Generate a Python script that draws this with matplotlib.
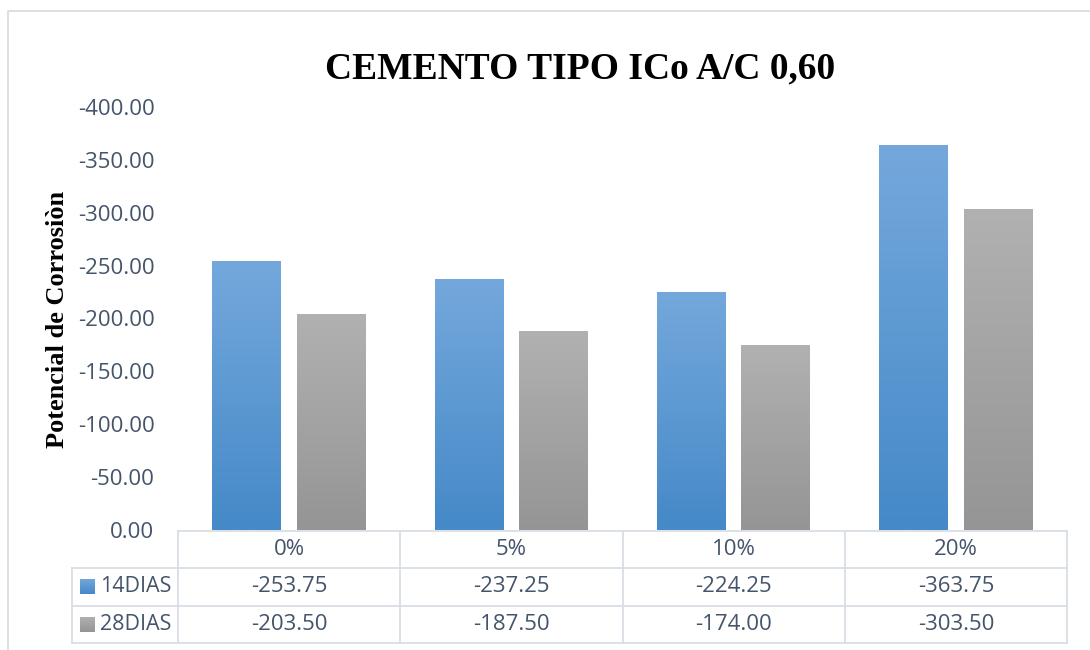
import matplotlib
matplotlib.use("Agg")
import matplotlib.pyplot as plt
import numpy as np
from matplotlib.patches import Rectangle
from matplotlib.lines import Line2D
from matplotlib.colors import LinearSegmentedColormap
from matplotlib.transforms import blended_transform_factory

categories = ["0%", "5%", "10%", "20%"]
series_names = ["14DIAS", "28DIAS"]
dias14 = [-253.75, -237.25, -224.25, -363.75]
dias28 = [-203.50, -187.50, -174.00, -303.50]
title = "CEMENTO TIPO ICo A/C 0,60"
ylabel = "Potencial de Corrosiòn"
yticks = [0, -50, -100, -150, -200, -250, -300, -350, -400]

W, H = 1090, 650
fig = plt.figure(figsize=(W / 100, H / 100), dpi=100)

def fx(px):
    return px / W

def fy(py):
    return 1 - py / H

txt_color = "#44546A"
grid_color = "#D9DEE6"
sans = ["Open Sans", "DejaVu Sans"]
serif = ["Liberation Serif", "DejaVu Serif"]

# outer chart border
fig.patches.append(Rectangle((fx(8), fy(660)), fx(1100) - fx(8), fy(11) - fy(660),
                             transform=fig.transFigure, fill=False,
                             edgecolor="#D9D9D9", lw=1.2))

ax = fig.add_axes([fx(178), fy(530), fx(1067) - fx(178), fy(107) - fy(530)])
ax.set_facecolor("none")
for s in ax.spines.values():
    s.set_visible(False)

x = np.arange(len(categories))
bw = 0.31
off = 0.19
cols14 = ("#4589C8", "#74A8DC")
cols28 = ("#959595", "#B1B1B1")
bars1 = ax.bar(x - off, dias14, bw, color="none")
bars2 = ax.bar(x + off, dias28, bw, color="none")

def grad(bars, cols):
    cmap = LinearSegmentedColormap.from_list("g", list(cols))
    g = np.linspace(0, 1, 256).reshape(-1, 1)
    for b in bars:
        x0 = b.get_x()
        x1 = x0 + b.get_width()
        h = b.get_height()
        ax.imshow(g, cmap=cmap, origin="lower", aspect="auto",
                  extent=(x0, x1, 0, h), zorder=2, interpolation="bilinear")

grad(bars1, cols14)
grad(bars2, cols28)

tfs = 16

ax.set_xlim(-0.5, 3.5)
ax.set_ylim(0, -400)
ax.set_yticks(yticks)
ax.set_yticklabels([f"{v:.2f}" for v in yticks], fontsize=tfs,
                   color=txt_color, family=sans)
ax.tick_params(axis="y", length=0, pad=17)
ax.set_xticks([])

# title & ylabel
fig.text(fx(580), fy(69), title, ha="center", va="center", fontsize=27,
         fontweight="bold", family=serif, color="black")
fig.text(fx(58), fy(319), ylabel, ha="center", va="center", rotation=90,
         fontsize=19, fontweight="bold", family=serif, color="black")

# data table
tr = blended_transform_factory(ax.transData, fig.transFigure)
row_tops = [531, 568, 606, 643]
lw = 1.3
for xb in np.arange(-0.5, len(categories), 1.0):
    fig.add_artist(Line2D([xb, xb], [fy(row_tops[0]), fy(row_tops[-1])],
                          transform=tr, color=grid_color, lw=lw))
fig.add_artist(Line2D([-0.5, 3.5], [fy(row_tops[0])] * 2, transform=tr,
                      color=grid_color, lw=lw))
fig.add_artist(Line2D([fx(72), fx(72)], [fy(row_tops[1]), fy(row_tops[-1])],
                      transform=fig.transFigure, color=grid_color, lw=lw))
x_left_data = ax.transData.inverted().transform((72, 0))[0]
for yt in row_tops[1:]:
    fig.add_artist(Line2D([x_left_data, 3.5], [fy(yt)] * 2, transform=tr,
                          color=grid_color, lw=lw))

for i, c in enumerate(categories):
    fig.text(i, fy((row_tops[0] + row_tops[1]) / 2), c, transform=tr,
             ha="center", va="center", fontsize=tfs, color=txt_color, family=sans)
    fig.text(i, fy((row_tops[1] + row_tops[2]) / 2), f"{dias14[i]:.2f}", transform=tr,
             ha="center", va="center", fontsize=tfs, color=txt_color, family=sans)
    fig.text(i, fy((row_tops[2] + row_tops[3]) / 2), f"{dias28[i]:.2f}", transform=tr,
             ha="center", va="center", fontsize=tfs, color=txt_color, family=sans)

cmaps = [cols14, cols28]
for r, (name, cc) in enumerate(zip(series_names, cmaps)):
    yc = (row_tops[r + 1] + row_tops[r + 2]) / 2
    cmap = LinearSegmentedColormap.from_list("l", list(cc))
    lax = fig.add_axes([fx(80), fy(yc + 7), fx(15), fy(yc - 8) - fy(yc + 7)])
    lax.imshow(np.linspace(0, 1, 64).reshape(-1, 1), cmap=cmap, origin="lower",
               aspect="auto")
    lax.axis("off")
    fig.text(fx(100), fy(yc), name, ha="left", va="center", fontsize=tfs - 0.5,
             color=txt_color, family=sans)

fig.savefig("out.png", dpi=100)
